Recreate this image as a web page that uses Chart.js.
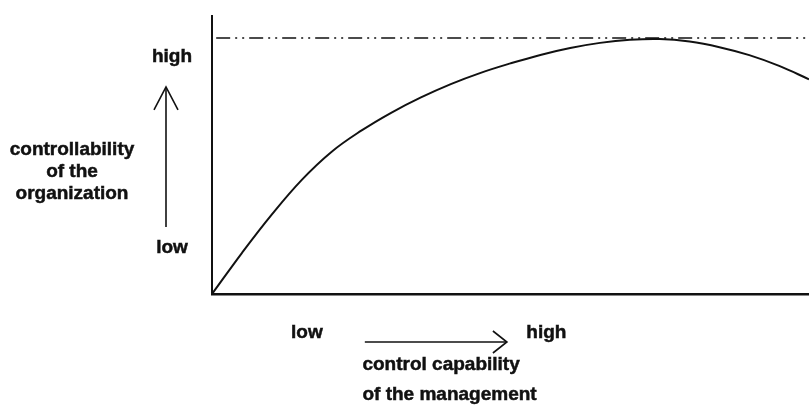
<!DOCTYPE html>
<html>
<head>
<meta charset="utf-8">
<script src="https://cdn.jsdelivr.net/npm/chart.js@4"></script>
<style>
html, body { margin: 0; padding: 0; background: #fff; }
</style>
</head>
<body>
<canvas id="chart" width="809" height="412"></canvas>
<script>
// Kurve: Steuerbarkeit der Organisation ueber Steuerungsfaehigkeit des Managements
const curveX = [0, 5, 10, 15, 20, 25, 30, 35, 40, 45, 50, 55, 60, 65, 70, 75, 80, 85, 90, 95, 100];
const curveY = [0, 16, 31, 44.5, 55.5, 63.8, 70.8, 76.8, 82, 86.4, 90.1, 93.4, 96.1, 98.1, 99.3, 99.6, 98.6, 96.4, 93.3, 89.1, 83.9];

// gestrichelte Obergrenze
const limitX = [0.7, 100];
const limitY = [100, 100];

// Beschriftungen
const yLabels = ['low', 'high'];
const yLabelValues = [18, 92.6];
const yArrowValues = [26.2, 80.9];
const yTitle = ['controllability', 'of the', 'organization'];
const xLabels = ['low', 'high'];
const xLabelValues = [15.9, 56.0];
const xArrowValues = [25.6, 49.4];
const xTitle = ['control capability', 'of the management'];

const INK = '#111';
const FONT = 'bold 19px "Liberation Sans", Arial, sans-serif';

function arrowHead(ctx, tx, ty, dx, dy) {
    ctx.beginPath();
    ctx.moveTo(tx + dx[0], ty + dy[0]);
    ctx.lineTo(tx, ty);
    ctx.lineTo(tx + dx[1], ty + dy[1]);
    ctx.stroke();
}

function boldText(ctx, t, x, y) {
    ctx.fillText(t, x, y);
    ctx.strokeText(t, x, y);
}

/*
Zeichnet Achsenbeschriftungen und Pfeile.
 */
const labelPlugin = {
    id: 'labels',
    afterDraw(chart) {
        const ctx = chart.ctx;
        const area = chart.chartArea;
        const xs = chart.scales.x;
        const ys = chart.scales.y;
        ctx.save();
        ctx.fillStyle = INK;
        ctx.strokeStyle = INK;
        ctx.font = FONT;
        ctx.textBaseline = 'middle';
        ctx.textAlign = 'center';

        // Text etwas kraeftiger
        ctx.lineWidth = 0.5;
        const yLabX = area.left - 40;
        yLabels.forEach((t, i) => boldText(ctx, t, yLabX, ys.getPixelForValue(yLabelValues[i])));
        yTitle.forEach((t, i) => boldText(ctx, t, 72, area.top + 134 + i * 22));
        const xLabY = area.bottom + 39;
        xLabels.forEach((t, i) => boldText(ctx, t, xs.getPixelForValue(xLabelValues[i]), xLabY));
        ctx.textAlign = 'left';
        const tx = xs.getPixelForValue(25.2);
        xTitle.forEach((t, i) => boldText(ctx, t, tx, area.bottom + 71 + i * 30));

        // Pfeile
        ctx.lineWidth = 1.6;
        const ax = area.left - 46;
        const ay0 = ys.getPixelForValue(yArrowValues[0]);
        const ay1 = ys.getPixelForValue(yArrowValues[1]);
        ctx.beginPath();
        ctx.moveTo(ax, ay0);
        ctx.lineTo(ax, ay1);
        ctx.stroke();
        arrowHead(ctx, ax, ay1, [-12, 12], [23, 23]);

        const bx0 = xs.getPixelForValue(xArrowValues[0]);
        const bx1 = xs.getPixelForValue(xArrowValues[1]);
        const by = area.bottom + 48;
        ctx.beginPath();
        ctx.moveTo(bx0, by);
        ctx.lineTo(bx1, by);
        ctx.stroke();
        arrowHead(ctx, bx1, by, [-14, -14], [-11, 11]);
        ctx.restore();
    }
};

const ctx = document.getElementById('chart');
const chart = new Chart(ctx, {
    type: 'line',
    data: {
        datasets: [{
            data: curveX.map((x, i) => ({x: x, y: curveY[i]})),
            borderColor: INK,
            borderWidth: 2,
            pointRadius: 0,
            tension: 0.4,
            fill: false
        }, {
            data: limitX.map((x, i) => ({x: x, y: limitY[i]})),
            borderColor: INK,
            borderWidth: 1.5,
            borderDash: [14, 5, 2, 5, 2, 5],
            pointRadius: 0,
            fill: false
        }]
    },
    options: {
        responsive: false,
        animation: false,
        layout: {
            padding: {left: 212, right: 0, top: 16, bottom: 118}
        },
        plugins: {
            legend: {display: false},
            tooltip: {enabled: false}
        },
        scales: {
            x: {
                type: 'linear',
                min: 0,
                max: 100,
                ticks: {display: false},
                grid: {display: false},
                border: {display: true, color: INK, width: 2.5},
                afterFit: s => { s.height = 0; }
            },
            y: {
                type: 'linear',
                min: 0,
                max: 108.6,
                ticks: {display: false},
                grid: {display: false},
                border: {display: true, color: INK, width: 2},
                afterFit: s => { s.width = 0; }
            }
        }
    },
    plugins: [labelPlugin]
});
</script>
</body>
</html>
